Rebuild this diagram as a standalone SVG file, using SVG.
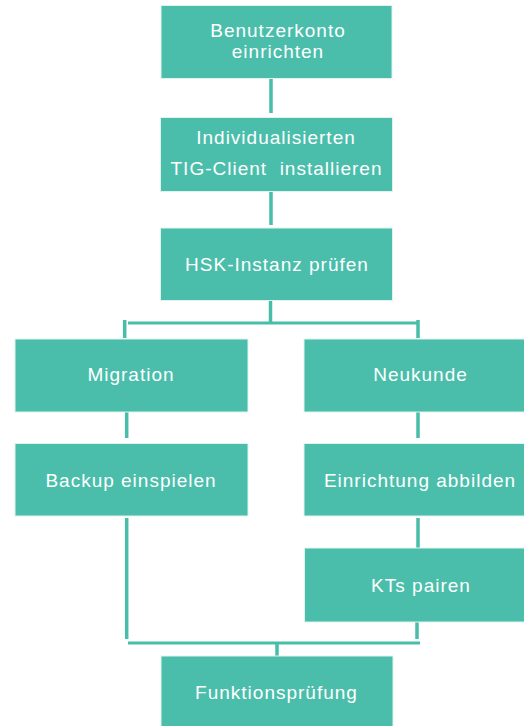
<svg xmlns="http://www.w3.org/2000/svg" width="524" height="726" viewBox="0 0 524 726">
<style>
.box{fill:#4abeab;stroke:#dff3ee;stroke-width:1}
.t{font-family:"Liberation Sans",Arial,sans-serif;font-size:19px;fill:#ffffff;text-anchor:middle;letter-spacing:1px}
.c{stroke:#48bda8;stroke-width:3.5;fill:none}
</style>
<rect width="524" height="726" fill="#ffffff"/>
<g id="connectors">
<line class="c" x1="271" y1="79" x2="271" y2="113"/>
<line class="c" x1="271" y1="192" x2="271" y2="225"/>
<line class="c" x1="270.5" y1="301" x2="270.5" y2="322"/>
<line class="c" x1="128" y1="323" x2="417" y2="323" style="stroke-width:2.8"/>
<line class="c" x1="124.7" y1="320" x2="124.7" y2="338"/>
<line class="c" x1="418" y1="320" x2="418" y2="338"/>
<line class="c" x1="126.7" y1="406" x2="126.7" y2="438"/>
<line class="c" x1="418" y1="406" x2="418" y2="438"/>
<line class="c" x1="126.7" y1="518" x2="126.7" y2="639"/>
<line class="c" x1="418" y1="518" x2="418" y2="548"/>
<line class="c" x1="417" y1="622" x2="417" y2="639"/>
<line class="c" x1="128" y1="643" x2="420" y2="643" style="stroke-width:2.8"/>
<line class="c" x1="277" y1="644" x2="277" y2="656"/>
</g>
<g id="n1"><rect class="box" x="161" y="5.5" width="231" height="73"/>
<text class="t" x="278" y="36.5">Benutzerkonto</text><text class="t" x="278" y="58">einrichten</text></g>
<g id="n2"><rect class="box" x="160.5" y="117.5" width="232" height="74"/>
<text class="t" x="276" y="144">Individualisierten</text><text class="t" x="276.5" y="175" xml:space="preserve">TIG-Client  installieren</text></g>
<g id="n3"><rect class="box" x="160.5" y="228" width="232" height="72.5"/>
<text class="t" x="277" y="271">HSK-Instanz prüfen</text></g>
<g id="n4"><rect class="box" x="15" y="339" width="233" height="73"/>
<text class="t" x="131" y="381">Migration</text></g>
<g id="n5"><rect class="box" x="304" y="339" width="233" height="73"/>
<text class="t" x="420.5" y="381">Neukunde</text></g>
<g id="n6"><rect class="box" x="15" y="443.5" width="233" height="72.5"/>
<text class="t" x="131" y="487">Backup einspielen</text></g>
<g id="n7"><rect class="box" x="304" y="443.5" width="233" height="72.5"/>
<text class="t" x="420" y="487">Einrichtung abbilden</text></g>
<g id="n8"><rect class="box" x="304.5" y="548" width="233" height="74"/>
<text class="t" x="421" y="592">KTs pairen</text></g>
<g id="n9"><rect class="box" x="161" y="656" width="232" height="72"/>
<text class="t" x="276.5" y="699">Funktionsprüfung</text></g>
</svg>
